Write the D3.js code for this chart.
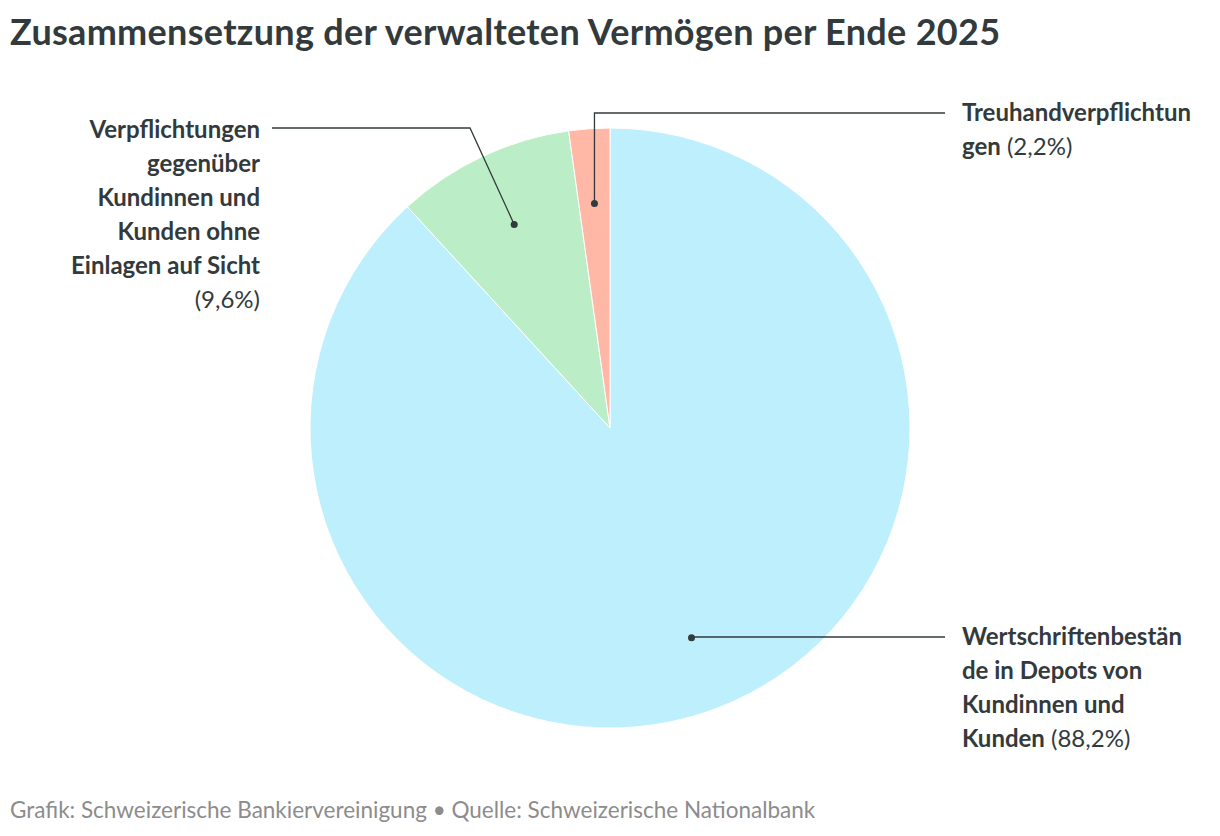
<!DOCTYPE html>
<html>
<head>
<meta charset="utf-8">
<script src="https://cdn.jsdelivr.net/npm/d3@7"></script>
<style>
  body { margin: 0; background: #fff; }
  svg { font-family: Lato, "Open Sans", sans-serif; }
</style>
</head>
<body>
<svg id="chart" width="1220" height="836"></svg>
<script>
const categories = [
    "Wertschriftenbestände in Depots von Kundinnen und Kunden",
    "Verpflichtungen gegenüber Kundinnen und Kunden ohne Einlagen auf Sicht",
    "Treuhandverpflichtungen"
];
const shares = [88.2, 9.6, 2.2];
const shareLabels = ["88,2%", "9,6%", "2,2%"];
const colors = ["#bdeffd", "#bbeec6", "#ffb7a6"];

// label layout: wrapped lines, anchor side and leader elbow
const labelLines = [
    ["Wertschriftenbestän", "de in Depots von", "Kundinnen und", "Kunden"],
    ["Verpflichtungen", "gegenüber", "Kundinnen und", "Kunden ohne", "Einlagen auf Sicht", ""],
    ["Treuhandverpflichtun", "gen"]
];
const labelSpec = [
    { x: 962, y: 637, anchor: "start", elbowY: 637, lineEnd: 945 },
    { x: 260, y: 130, anchor: "end", elbowY: 128, lineEnd: 272, elbowX: 470 },
    { x: 962, y: 113, anchor: "start", elbowY: 113, lineEnd: 945 }
];

const svg = d3.select("#chart");
const cx = 610, cy = 428, R = 300;
const textColor = "#333a3c";

svg.append("text")
    .attr("x", 10).attr("y", 45)
    .attr("font-size", 36).attr("font-weight", 700)
    .attr("letter-spacing", 0.3)
    .attr("fill", textColor)
    .text("Zusammensetzung der verwalteten Vermögen per Ende 2025");

const pie = d3.pie().sort(null).value(d => d);
const arcs = pie(shares);
const arc = d3.arc().innerRadius(0).outerRadius(R);
const dotArc = d3.arc().innerRadius(225).outerRadius(225);

const g = svg.append("g").attr("transform", `translate(${cx},${cy})`);

g.selectAll("path.slice")
    .data(arcs)
    .enter().append("path")
        .attr("class", "slice")
        .attr("d", arc)
        .attr("fill", (d, i) => colors[i])
        .attr("stroke", "#fff")
        .attr("stroke-width", 1);

arcs.forEach((d, i) => {
    let [dx, dy] = dotArc.centroid(d);
    let px = cx + dx, py = cy + dy, s = labelSpec[i];
    let pts = s.elbowX !== undefined
        ? [[px, py], [s.elbowX, s.elbowY], [s.lineEnd, s.elbowY]]
        : [[px, py], [px, s.elbowY], [s.lineEnd, s.elbowY]];
    svg.append("path")
        .attr("d", d3.line()(pts))
        .attr("fill", "none")
        .attr("stroke", textColor)
        .attr("stroke-width", 1.3);
    svg.append("circle")
        .attr("cx", px).attr("cy", py).attr("r", 3.5)
        .attr("fill", textColor);

    let t = svg.append("text")
        .attr("font-size", 24)
        .attr("fill", textColor)
        .attr("text-anchor", s.anchor);
    let lines = labelLines[i];
    lines.forEach((line, j) => {
        let ts = t.append("tspan")
            .attr("x", s.x)
            .attr("y", s.y + j * 34 + 8);
        let last = j === lines.length - 1;
        if (line) ts.append("tspan").attr("font-weight", 700).text(line);
        if (last) ts.append("tspan").attr("font-weight", 400)
            .text((line ? " " : "") + "(" + shareLabels[i] + ")");
    });
});

svg.append("text")
    .attr("x", 10).attr("y", 818)
    .attr("font-size", 22.5)
    .attr("fill", "#8c8c8c")
    .text("Grafik: Schweizerische Bankiervereinigung • Quelle: Schweizerische Nationalbank");
</script>
</body>
</html>
